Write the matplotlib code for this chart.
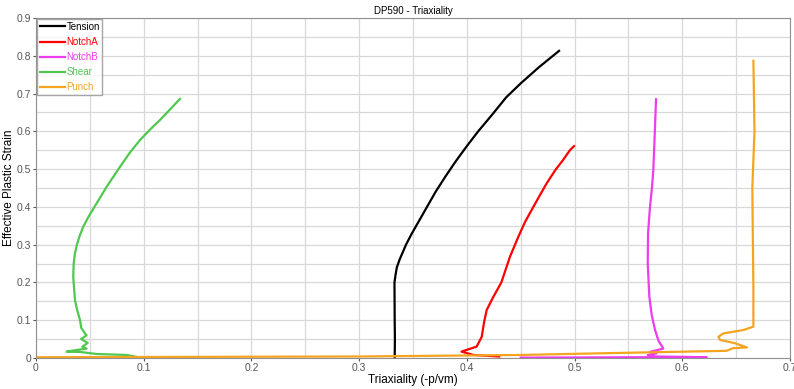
import matplotlib.pyplot as plt
from matplotlib.ticker import MultipleLocator

plt.rcParams['font.family'] = ['Liberation Sans', 'DejaVu Sans']

# curves: (triaxiality, effective plastic strain)
tension_x = [0.333, 0.3332, 0.333, 0.3328, 0.3338, 0.335, 0.3375, 0.3405, 0.3435, 0.349, 0.355,
             0.363, 0.371, 0.380, 0.3895, 0.400, 0.4105, 0.4246, 0.4365, 0.450, 0.467, 0.4856]
tension_y = [0.000, 0.050, 0.100, 0.200, 0.220, 0.240, 0.260, 0.280, 0.300, 0.330, 0.360,
             0.400, 0.440, 0.480, 0.520, 0.561, 0.600, 0.648, 0.690, 0.727, 0.770, 0.813]

notcha_x = [0.430, 0.406, 0.395, 0.409, 0.4138, 0.4160, 0.4184, 0.4246, 0.432, 0.440, 0.4478,
            0.454, 0.4617, 0.468, 0.474, 0.482, 0.489, 0.4958, 0.4995]
notcha_y = [0.004, 0.008, 0.017, 0.030, 0.056, 0.095, 0.127, 0.162, 0.200, 0.268, 0.321,
            0.360, 0.400, 0.432, 0.462, 0.497, 0.523, 0.5506, 0.561]

notchb_x = [0.450, 0.560, 0.6227, 0.575, 0.568, 0.576, 0.570, 0.5824, 0.578, 0.5747, 0.5715,
            0.5694, 0.5679, 0.5682, 0.570, 0.5718, 0.5731, 0.5745, 0.5756]
notchb_y = [0.001, 0.002, 0.002, 0.004, 0.008, 0.012, 0.016, 0.025, 0.045, 0.074, 0.115,
            0.1623, 0.2506, 0.330, 0.400, 0.450, 0.4976, 0.600, 0.685]

shear_x = [0.095, 0.084, 0.0563, 0.041, 0.0285, 0.035, 0.047, 0.043, 0.048, 0.042, 0.047, 0.0455,
           0.042, 0.0409, 0.038, 0.0362, 0.0346, 0.0350, 0.0362, 0.038, 0.0405, 0.0439, 0.049,
           0.0563, 0.066, 0.078, 0.087, 0.0966, 0.106, 0.1151, 0.1245, 0.1337]
shear_y = [0.002, 0.008, 0.0106, 0.016, 0.0167, 0.020, 0.025, 0.030, 0.040, 0.050, 0.060, 0.065,
           0.080, 0.100, 0.130, 0.1535, 0.215, 0.250, 0.277, 0.300, 0.323, 0.3475, 0.375,
           0.4094, 0.455, 0.506, 0.543, 0.577, 0.605, 0.630, 0.658, 0.686]

punch_x = [0.000, 0.300, 0.450, 0.5236, 0.641, 0.647, 0.660, 0.649, 0.635, 0.6335, 0.638, 0.6567,
           0.666, 0.666, 0.665, 0.667, 0.666]
punch_y = [0.002, 0.004, 0.008, 0.0124, 0.019, 0.026, 0.028, 0.039, 0.048, 0.056, 0.065, 0.074,
           0.083, 0.180, 0.450, 0.600, 0.787]

series = [
    ('Tension', tension_x, tension_y, 'black'),
    ('NotchA', notcha_x, notcha_y, '#ff0000'),
    ('NotchB', notchb_x, notchb_y, '#ee3cee'),
    ('Shear', shear_x, shear_y, '#50c850'),
    ('Punch', punch_x, punch_y, '#f5a420'),
]

fig = plt.figure(figsize=(7.94, 3.89), dpi=100)
ax = fig.add_axes([0.0453, 0.0797, 0.9497, 0.874])

for name, xs, ys, col in series:
    ax.plot(xs, ys, color=col, lw=1.6, label=name, solid_joinstyle='round')

ax.set_xlim(0, 0.7)
ax.set_ylim(0, 0.9)
ax.xaxis.set_major_locator(MultipleLocator(0.1))
ax.yaxis.set_major_locator(MultipleLocator(0.1))
ax.xaxis.set_minor_locator(MultipleLocator(0.05))
ax.yaxis.set_minor_locator(MultipleLocator(0.05))
ax.xaxis.set_major_formatter(lambda v, p: '0' if v == 0 else '%.1f' % v)
ax.yaxis.set_major_formatter(lambda v, p: '0' if v == 0 else '%.1f' % v)
ax.grid(which='both', color='#d8d8d8', lw=0.9)
ax.set_axisbelow(True)
for s in ax.spines.values():
    s.set_color('#909090')
ax.tick_params(which='major', labelsize=7.5, colors='#555555', length=2, pad=1.5)
ax.tick_params(which='minor', length=0)

ax.set_title('DP590 - Triaxiality', fontsize=7, pad=3)
ax.set_xlabel('Triaxiality (-p/vm)', fontsize=8.5, labelpad=1)
ax.set_ylabel('Effective Plastic Strain', fontsize=8.5, labelpad=1)

leg = ax.legend(loc='upper left', fontsize=7, frameon=True, fancybox=False,
                borderpad=0.25, labelspacing=0.52, handlelength=2.6, handletextpad=0.15,
                borderaxespad=0.15)
leg.get_frame().set_edgecolor('#909090')
leg.get_frame().set_linewidth(1.0)
for txt, (_, _, _, col) in zip(leg.get_texts(), series):
    txt.set_color(col)

fig.savefig('out.png', dpi=100)
